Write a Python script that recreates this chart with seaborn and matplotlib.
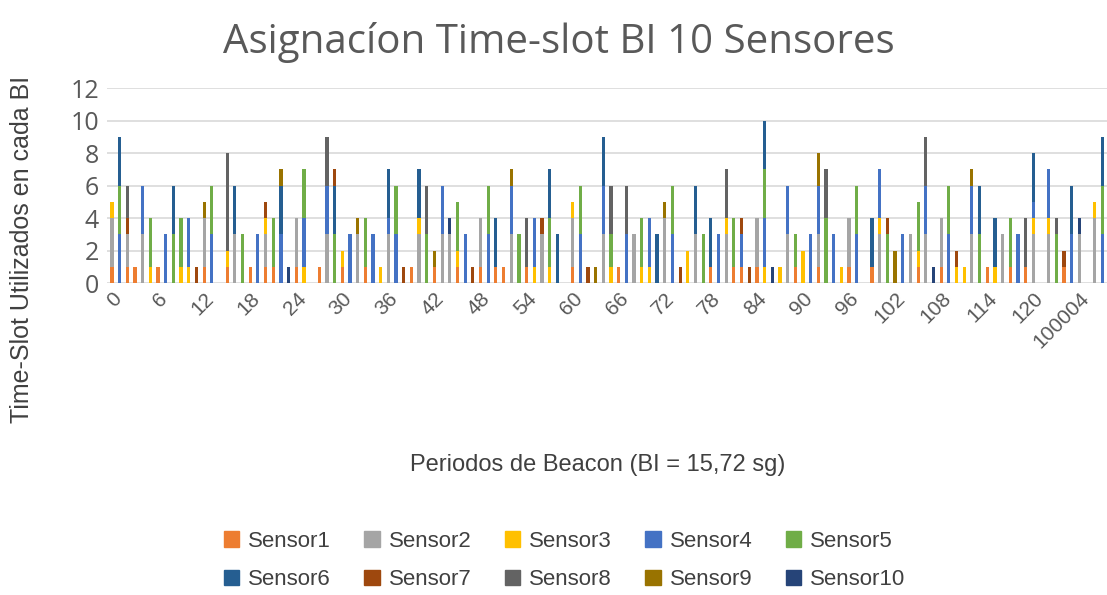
import matplotlib

matplotlib.use("Agg")
import matplotlib.pyplot as plt  # noqa: E402
import pandas as pd  # noqa: E402
import seaborn as sns  # noqa: E402
from matplotlib.patches import Patch  # noqa: E402

# beacon periods (categories); only every 6th label is shown on the axis
beacon_labels = [str(i) for i in range(126)] + ["100004", "100005", "100006", "100007"]

sensors = ["Sensor1", "Sensor2", "Sensor3", "Sensor4", "Sensor5",
           "Sensor6", "Sensor7", "Sensor8", "Sensor9", "Sensor10"]
colors = ["#ED7D31", "#A5A5A5", "#FFC000", "#4472C4", "#70AD47",
          "#255E91", "#9E480E", "#636363", "#997300", "#264478"]

# time slots used per beacon period, one list per sensor (10 values per row)
sensor1 = [1, 0, 1, 1, 0, 0, 1, 0, 0, 0,  0, 0, 1, 0, 0, 1, 0, 0, 1, 0,
           1, 1, 0, 0, 1, 0, 0, 1, 0, 0,  1, 0, 0, 1, 0, 0, 0, 0, 0, 1,
           0, 0, 1, 0, 0, 1, 0, 0, 1, 0,  1, 1, 0, 0, 1, 0, 0, 0, 0, 0,
           1, 0, 0, 0, 0, 0, 1, 0, 0, 0,  0, 0, 0, 0, 0, 0, 0, 0, 1, 0,
           0, 1, 1, 0, 1, 0, 0, 0, 0, 1,  0, 0, 1, 0, 0, 0, 1, 0, 0, 1,
           0, 0, 0, 0, 0, 1, 0, 0, 1, 0,  0, 0, 0, 0, 1, 0, 0, 1, 0, 1,
           0, 0, 0, 0, 1, 0, 0, 0, 0, 0]
sensor2 = [3, 0, 2, 0, 3, 0, 0, 0, 0, 0,  0, 0, 3, 0, 0, 0, 3, 0, 0, 0,
           2, 0, 0, 0, 3, 0, 0, 0, 3, 0,  0, 0, 3, 0, 0, 0, 3, 0, 0, 0,
           3, 0, 0, 3, 3, 0, 0, 0, 3, 0,  0, 0, 3, 0, 0, 0, 3, 0, 0, 0,
           3, 0, 0, 0, 3, 0, 0, 0, 3, 0,  0, 0, 4, 0, 0, 0, 3, 0, 0, 0,
           3, 0, 0, 0, 3, 0, 0, 0, 3, 0,  0, 0, 2, 0, 0, 0, 3, 0, 0, 0,
           3, 0, 0, 0, 3, 0, 3, 0, 3, 0,  0, 0, 3, 0, 0, 0, 3, 0, 0, 0,
           3, 0, 3, 0, 0, 0, 3, 0, 4, 0]
sensor3 = [1, 0, 0, 0, 0, 1, 0, 0, 0, 1,  1, 0, 0, 0, 0, 1, 0, 0, 0, 0,
           1, 0, 0, 0, 0, 1, 0, 0, 0, 0,  1, 0, 0, 0, 0, 1, 0, 0, 0, 0,
           1, 0, 0, 0, 0, 1, 0, 0, 0, 0,  0, 0, 0, 0, 0, 1, 0, 1, 0, 0,
           1, 0, 0, 0, 0, 1, 0, 0, 0, 1,  1, 0, 0, 0, 0, 2, 0, 0, 0, 0,
           1, 0, 0, 0, 0, 1, 0, 1, 0, 0,  2, 0, 0, 0, 0, 1, 0, 0, 0, 0,
           1, 0, 0, 0, 0, 1, 0, 0, 0, 0,  1, 1, 0, 0, 0, 1, 0, 0, 0, 0,
           1, 0, 1, 0, 0, 0, 0, 0, 1, 0]
sensor4 = [0, 3, 0, 0, 3, 0, 0, 3, 0, 0,  3, 0, 0, 3, 0, 0, 0, 0, 0, 3,
           0, 0, 3, 0, 0, 3, 0, 0, 3, 0,  0, 3, 0, 0, 3, 0, 1, 3, 0, 0,
           0, 0, 0, 3, 0, 0, 3, 0, 0, 3,  0, 0, 3, 0, 0, 3, 0, 0, 0, 0,
           0, 3, 0, 0, 3, 0, 0, 3, 0, 0,  3, 0, 0, 3, 0, 0, 0, 0, 0, 3,
           0, 0, 2, 0, 0, 3, 0, 0, 3, 0,  0, 3, 3, 0, 3, 0, 0, 3, 0, 0,
           3, 0, 0, 3, 0, 0, 3, 0, 0, 3,  0, 0, 3, 0, 0, 0, 0, 0, 3, 0,
           1, 0, 3, 0, 0, 3, 0, 0, 0, 3]
sensor5 = [0, 3, 0, 0, 0, 3, 0, 0, 3, 3,  0, 0, 0, 3, 0, 0, 0, 3, 0, 0,
           0, 3, 0, 0, 0, 3, 0, 0, 0, 3,  0, 0, 0, 3, 0, 0, 0, 3, 0, 0,
           0, 3, 0, 0, 0, 3, 0, 0, 0, 3,  0, 0, 0, 3, 0, 0, 0, 3, 0, 0,
           0, 3, 0, 0, 0, 2, 0, 0, 0, 3,  0, 0, 0, 3, 0, 0, 0, 3, 0, 0,
           0, 3, 0, 0, 0, 3, 0, 0, 0, 2,  0, 0, 0, 4, 0, 0, 0, 3, 0, 0,
           0, 3, 0, 0, 0, 3, 0, 0, 0, 3,  0, 0, 0, 3, 0, 0, 0, 3, 0, 0,
           0, 0, 0, 3, 0, 0, 0, 0, 0, 3]
sensor6 = [0, 3, 0, 0, 0, 0, 0, 0, 3, 0,  0, 0, 0, 0, 0, 0, 3, 0, 0, 0,
           0, 0, 3, 0, 0, 0, 0, 0, 0, 3,  0, 0, 0, 0, 0, 0, 3, 0, 0, 0,
           3, 0, 0, 0, 0, 0, 0, 0, 0, 0,  3, 0, 0, 0, 0, 0, 0, 3, 3, 0,
           0, 0, 0, 0, 3, 0, 0, 0, 0, 0,  0, 3, 0, 0, 0, 0, 3, 0, 3, 0,
           0, 0, 0, 0, 0, 3, 0, 0, 0, 0,  0, 0, 0, 0, 0, 0, 0, 0, 0, 3,
           0, 0, 0, 0, 0, 0, 0, 0, 0, 0,  0, 0, 0, 3, 0, 3, 0, 0, 0, 0,
           3, 0, 0, 0, 0, 3, 0, 0, 0, 3]
sensor7 = [0, 0, 1, 0, 0, 0, 0, 0, 0, 0,  0, 1, 0, 0, 0, 0, 0, 0, 0, 0,
           1, 0, 0, 0, 0, 0, 0, 0, 0, 1,  0, 0, 0, 0, 0, 0, 0, 0, 1, 0,
           0, 0, 0, 0, 0, 0, 0, 1, 0, 0,  0, 0, 0, 0, 0, 0, 1, 0, 0, 0,
           0, 0, 1, 0, 0, 0, 0, 0, 0, 0,  0, 0, 0, 0, 1, 0, 0, 0, 0, 0,
           0, 0, 1, 1, 0, 0, 0, 0, 0, 0,  0, 0, 0, 0, 0, 0, 0, 0, 0, 0,
           0, 1, 0, 0, 0, 0, 0, 0, 0, 0,  1, 0, 0, 0, 0, 0, 0, 0, 0, 0,
           0, 0, 0, 0, 1, 0, 0, 0, 0, 0]
sensor8 = [0, 0, 2, 0, 0, 0, 0, 0, 0, 0,  0, 0, 0, 0, 0, 6, 0, 0, 0, 0,
           0, 0, 0, 0, 0, 0, 0, 0, 3, 0,  0, 0, 0, 0, 0, 0, 0, 0, 0, 0,
           0, 3, 0, 0, 0, 0, 0, 0, 0, 0,  0, 0, 0, 0, 3, 0, 0, 0, 0, 0,
           0, 0, 0, 0, 0, 3, 0, 3, 0, 0,  0, 0, 0, 0, 0, 0, 0, 0, 0, 0,
           3, 0, 0, 0, 0, 0, 0, 0, 0, 0,  0, 0, 0, 3, 0, 0, 0, 0, 0, 0,
           0, 0, 0, 0, 0, 0, 3, 0, 0, 0,  0, 0, 0, 0, 0, 0, 0, 0, 0, 3,
           0, 0, 0, 1, 0, 0, 0, 0, 0, 0]
sensor9 = [0, 0, 0, 0, 0, 0, 0, 0, 0, 0,  0, 0, 1, 0, 0, 0, 0, 0, 0, 0,
           0, 0, 1, 0, 0, 0, 0, 0, 0, 0,  0, 0, 1, 0, 0, 0, 0, 0, 0, 0,
           0, 0, 1, 0, 0, 0, 0, 0, 0, 0,  0, 0, 1, 0, 0, 0, 0, 0, 0, 0,
           0, 0, 0, 1, 0, 0, 0, 0, 0, 0,  0, 0, 1, 0, 0, 0, 0, 0, 0, 0,
           0, 0, 0, 0, 0, 0, 0, 0, 0, 0,  0, 0, 2, 0, 0, 0, 0, 0, 0, 0,
           0, 0, 2, 0, 0, 0, 0, 0, 0, 0,  0, 0, 1, 0, 0, 0, 0, 0, 0, 0,
           0, 0, 0, 0, 0, 0, 0, 0, 0, 0]
sensor10 = [0, 0, 0, 0, 0, 0, 0, 0, 0, 0,  0, 0, 0, 0, 0, 0, 0, 0, 0, 0,
            0, 0, 0, 1, 0, 0, 0, 0, 0, 0,  0, 0, 0, 0, 0, 0, 0, 0, 0, 0,
            0, 0, 0, 0, 1, 0, 0, 0, 0, 0,  0, 0, 0, 0, 0, 0, 0, 0, 0, 0,
            0, 0, 0, 0, 0, 0, 0, 0, 0, 0,  0, 0, 0, 0, 0, 0, 0, 0, 0, 0,
            0, 0, 0, 0, 0, 0, 1, 0, 0, 0,  0, 0, 0, 0, 0, 0, 0, 0, 0, 0,
            0, 0, 0, 0, 0, 0, 0, 1, 0, 0,  0, 0, 0, 0, 0, 0, 0, 0, 0, 0,
            0, 0, 0, 0, 0, 0, 1, 0, 0, 0]

series = [sensor1, sensor2, sensor3, sensor4, sensor5,
          sensor6, sensor7, sensor8, sensor9, sensor10]

rows = []
for name, vals in zip(sensors, series):
    for pos, v in enumerate(vals):
        rows.append({"pos": pos, "sensor": name, "slots": v})
df = pd.DataFrame(rows)

TICK_GRAY = "#595959"
SANS = ["Liberation Sans", "DejaVu Sans"]

sns.set_style("white")
fig = plt.figure(figsize=(11.07, 5.95), dpi=100)
ax = fig.add_axes([0.097, 0.524, 0.903, 0.328])

# seaborn stacks the first hue level on top, so feed the order reversed
sns.histplot(
    data=df, x="pos", hue="sensor", weights="slots",
    hue_order=sensors[::-1], palette=colors[::-1],
    multiple="stack", discrete=True, shrink=0.42,
    alpha=1, linewidth=0, legend=False, ax=ax, zorder=3,
)

ax.set_ylim(0, 12)
ax.set_xlim(-0.6, 129.6)
ax.set_yticks(range(0, 13, 2))
ax.yaxis.grid(True, color="#D9D9D9", lw=1.2, zorder=0)
ax.set_axisbelow(True)
for s in ax.spines.values():
    s.set_visible(False)

ax.set_xticks(range(0, len(beacon_labels), 6))
ax.set_xticklabels(beacon_labels[::6], rotation=45, ha="right",
                   rotation_mode="anchor", family=SANS)
ax.tick_params(axis="x", length=0, pad=4, labelsize=15, labelcolor=TICK_GRAY)
ax.tick_params(axis="y", length=0, pad=6, labelsize=18, labelcolor=TICK_GRAY)
for lbl in ax.get_yticklabels():
    lbl.set_family(["Open Sans", "DejaVu Sans"])
ax.set_xlabel("")
ax.set_ylabel("")

fig.text(0.505, 0.928, "Asignacíon Time-slot BI 10 Sensores", ha="center", va="center",
         fontsize=29, color=TICK_GRAY, family=["Open Sans", "DejaVu Sans"])
fig.text(0.02, 0.58, "Time-Slot Utilizados en cada BI", rotation=90, ha="center",
         va="center", fontsize=18, color="#404040", family=SANS)
fig.text(0.54, 0.218, "Periodos de Beacon (BI = 15,72 sg)", ha="center", va="center",
         fontsize=17, color="#404040", family=SANS)

# legend filled row by row: Sensor1..5 on top, Sensor6..10 below
handles = [Patch(color=c, label=n) for n, c in zip(sensors, colors)]
order = [0, 5, 1, 6, 2, 7, 3, 8, 4, 9]
fig.legend([handles[i] for i in order], [sensors[i] for i in order],
           loc="center", bbox_to_anchor=(0.51, 0.058), ncol=5, frameon=False,
           handlelength=0.7, handleheight=0.7, handletextpad=0.4, columnspacing=1.5,
           labelspacing=0.8, prop={"family": SANS, "size": 16}, labelcolor="#404040")

fig.savefig("out.png", dpi=100)
